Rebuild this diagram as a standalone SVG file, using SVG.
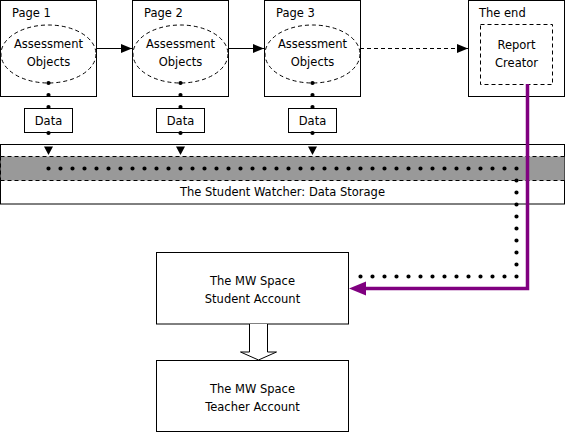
<svg xmlns="http://www.w3.org/2000/svg" width="565" height="433" viewBox="0 0 565 433">
<style>
text{font-family:"DejaVu Sans",Verdana,sans-serif;font-size:11.5px;fill:#000}
.c{text-anchor:middle}
.box{fill:#fff;stroke:#000;stroke-width:1}
.ell{fill:none;stroke:#000;stroke-width:1;stroke-dasharray:4 3}
.dash{fill:none;stroke:#000;stroke-width:1;stroke-dasharray:4 3}
.dots{fill:none;stroke:#000;stroke-width:4.2;stroke-linecap:round;stroke-dasharray:0 12}
.line{fill:none;stroke:#000;stroke-width:1}
</style>
<defs>
<marker id="ah" markerWidth="11" markerHeight="9" refX="11" refY="4.5" orient="auto" markerUnits="userSpaceOnUse">
<path d="M0,0 L11,4.5 L0,9 Z" fill="#000"/>
</marker>
</defs>

<g id="storage">
<rect class="box" x="0.5" y="144.5" width="564" height="59.5"/>
<rect x="0.5" y="156.5" width="564" height="24" fill="#999999"/>
<line class="dash" x1="0.5" y1="156.5" x2="564.5" y2="156.5"/>
<line class="dash" x1="0.5" y1="180.5" x2="564.5" y2="180.5"/>
<line class="dash" x1="0.5" y1="156.5" x2="0.5" y2="180.5"/>
<text class="c" x="282.5" y="196">The Student Watcher: Data Storage</text>
</g>

<g id="page1">
<rect class="box" x="0.5" y="0.5" width="96" height="96"/>
<text x="12" y="17">Page 1</text>
<ellipse class="ell" cx="48.5" cy="54" rx="47.5" ry="29"/>
<text class="c" x="48.5" y="48">Assessment</text>
<text class="c" x="48.5" y="66">Objects</text>
</g>
<g id="page2">
<rect class="box" x="132.5" y="0.5" width="96" height="96"/>
<text x="144" y="17">Page 2</text>
<ellipse class="ell" cx="180.5" cy="54" rx="47.5" ry="29"/>
<text class="c" x="180.5" y="48">Assessment</text>
<text class="c" x="180.5" y="66">Objects</text>
</g>
<g id="page3">
<rect class="box" x="264.5" y="0.5" width="96" height="96"/>
<text x="276" y="17">Page 3</text>
<ellipse class="ell" cx="312.5" cy="54" rx="47.5" ry="29"/>
<text class="c" x="312.5" y="48">Assessment</text>
<text class="c" x="312.5" y="66">Objects</text>
</g>
<g id="theend">
<rect class="box" x="468.5" y="0.5" width="96" height="96"/>
<text x="479" y="17">The end</text>
<rect class="dash" x="480.5" y="24.5" width="72" height="60"/>
<text class="c" x="516.5" y="49">Report</text>
<text class="c" x="516.5" y="67">Creator</text>
</g>

<g id="data1">
<rect class="box" x="24.5" y="108.5" width="48" height="24"/>
<text class="c" x="48.5" y="125">Data</text>
</g>
<g id="data2">
<rect class="box" x="156.5" y="108.5" width="48" height="24"/>
<text class="c" x="180.5" y="125">Data</text>
</g>
<g id="data3">
<rect class="box" x="288.5" y="108.5" width="48" height="24"/>
<text class="c" x="312.5" y="125">Data</text>
</g>

<g id="student">
<rect class="box" x="156.5" y="252.5" width="192" height="71.5"/>
<text class="c" x="252.5" y="285">The MW Space</text>
<text class="c" x="252.5" y="303">Student Account</text>
</g>
<g id="teacher">
<rect class="box" x="156.5" y="360.5" width="192" height="71"/>
<text class="c" x="252.5" y="393">The MW Space</text>
<text class="c" x="252.5" y="411">Teacher Account</text>
</g>

<g id="connectors">
<line class="line" x1="96" y1="48.5" x2="132" y2="48.5" marker-end="url(#ah)"/>
<line class="line" x1="228" y1="48.5" x2="264" y2="48.5" marker-end="url(#ah)"/>
<line class="dash" x1="360" y1="48.5" x2="468" y2="48.5" marker-end="url(#ah)"/>

<path class="dots" d="M48.5,83 V108 M48.5,133 V145"/>
<path class="dots" d="M180.5,83 V108 M180.5,133 V145"/>
<path class="dots" d="M312.5,83 V108 M312.5,133 V145"/>
<path d="M44,146.5 H53 L48.5,155 Z" fill="#000"/>
<path d="M176,146.5 H185 L180.5,155 Z" fill="#000"/>
<path d="M308,146.5 H317 L312.5,155 Z" fill="#000"/>

<path class="dots" d="M48.5,168.5 H516.5 V276.5 H360"/>

<path d="M527.5,84 V288.5 H364" fill="none" stroke="#800080" stroke-width="3.5"/>
<path d="M349,288.5 L366,281.5 L366,295.5 Z" fill="#800080"/>

<path d="M249.5,324 V352 H240.5 L258.5,360 L276.5,352 H267.5 V324" fill="#fff" stroke="#000" stroke-width="1"/>
</g>
</svg>
